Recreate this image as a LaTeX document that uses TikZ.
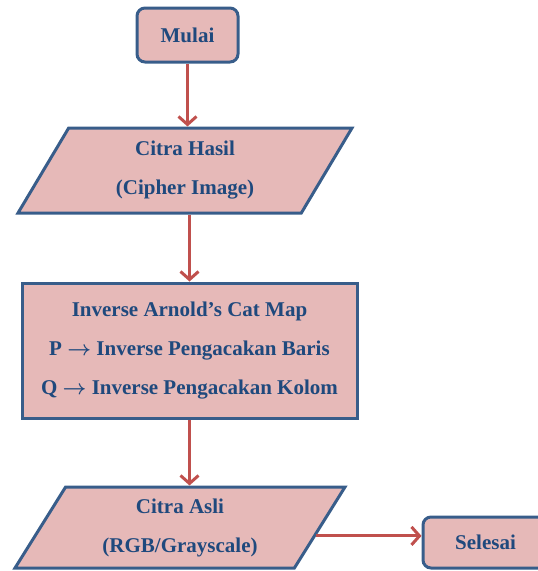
\documentclass[tikz,border=0pt]{standalone}
\usepackage{fontspec}
\setmainfont{Liberation Serif}
\usetikzlibrary{shapes.geometric,arrows.meta,calc}
\definecolor{isi}{HTML}{E6B9B8}
\definecolor{tepi}{HTML}{385D8A}
\definecolor{merah}{HTML}{C0504D}
\definecolor{tinta}{HTML}{1F497D}
\begin{document}
\begin{tikzpicture}[x=1pt, y=-1pt, >={Straight Barb[length=8pt,width=18pt]},
    bentuk/.style={draw=tepi, fill=isi, line width=3pt, text=tinta, align=center,
        font=\bfseries\boldmath\fontsize{21}{39}\selectfont},
    terminal/.style={bentuk, rounded corners=8pt, minimum height=52pt},
    proses/.style={bentuk, rectangle},
    data/.style={bentuk, trapezium, trapezium left angle=52, trapezium right angle=128,
        trapezium stretches body},
    alur/.style={->, draw=merah, line width=3pt}]
    \useasboundingbox (0,0) rectangle (538,571);
    % bentuk-bentuk bagan alir
    \node[terminal, minimum width=101pt, minimum height=54pt] (mulai) at (187.5,35) {Mulai};
    \node[data, minimum width=334pt, minimum height=85pt] (hasil) at (185,170.5) {Citra Hasil\\(Cipher Image)};
    \node[proses, minimum width=335pt, minimum height=135pt] (arnold) at (189.5,350.5)
        {Inverse Arnold’s Cat Map\\P $\rightarrow$ Inverse Pengacakan Baris\\Q $\rightarrow$ Inverse Pengacakan Kolom};
    \node[data, minimum width=330pt, minimum height=81pt] (asli) at (180,527.5) {Citra Asli\\(RGB/Grayscale)};
    \node[terminal, minimum width=125pt, minimum height=51pt] (selesai) at (485.5,542.5) {Selesai};
    % panah
    \draw[alur] (mulai.south) -- (mulai.south |- hasil.north);
    \draw[alur] (hasil.south -| arnold.north) -- (arnold.north);
    \draw[alur] (arnold.south) -- (arnold.south |- asli.north);
    \coordinate (keluar) at ($(asli.top right corner)!.6!(asli.bottom right corner)$);
    \draw[alur] (keluar) -- (keluar -| selesai.west);
\end{tikzpicture}
\end{document}
